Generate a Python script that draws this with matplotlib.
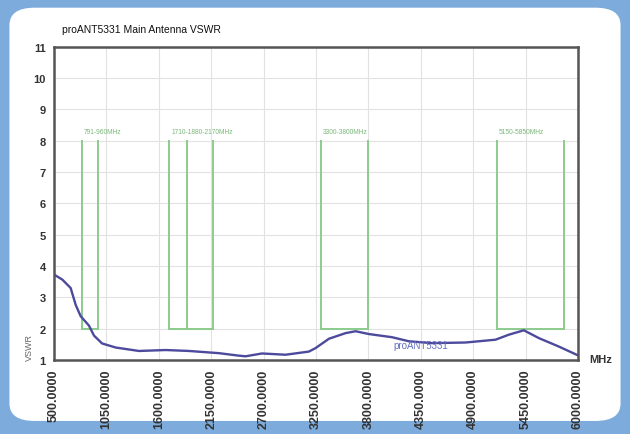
import matplotlib.pyplot as plt
from matplotlib.patches import FancyBboxPatch

plt.rcParams['font.family'] = ['Liberation Sans', 'DejaVu Sans']

# VSWR trace
freq = [500, 587, 675, 728, 780, 867, 920, 1005, 1147, 1392, 1672, 1917, 2231,
        2441, 2511, 2683, 2931, 3175, 3245, 3386, 3561, 3666, 3806, 4047, 4225,
        4467, 4820, 5135, 5275, 5432, 5590, 5800, 6000]
vswr = [3.73, 3.57, 3.3, 2.76, 2.4, 2.1, 1.78, 1.53, 1.4, 1.29, 1.32, 1.29, 1.22,
        1.14, 1.12, 1.21, 1.17, 1.27, 1.38, 1.68, 1.86, 1.92, 1.83, 1.73, 1.6,
        1.54, 1.56, 1.65, 1.81, 1.95, 1.7, 1.43, 1.15]

# spec masks (band edges in MHz, limit 2 up to the marker height 8)
bands = [[791, 960], [1710, 1900, 2170], [3300, 3800], [5150, 5850]]
band_labels = ["791-960MHz", "1710-1880-2170MHz", "3300-3800MHz", "5150-5850MHz"]
mask_low = 2
mask_high = 8

xticks = [500, 1050, 1600, 2150, 2700, 3250, 3800, 4350, 4900, 5450, 6000]
yticks = list(range(1, 12))

green = "#8ccb8c"
trace = "#4c4a9c"

fig = plt.figure(figsize=(6.3, 4.35), dpi=100)
fig.patch.set_facecolor("#7dacdc")

# white rounded card behind the chart
bg = fig.add_axes([0, 0, 1, 1])
bg.set_axis_off()
bg.set_xlim(0, 1)
bg.set_ylim(0, 1)
bg.add_patch(FancyBboxPatch((0.015, 0.03), 0.97, 0.95, boxstyle="round,pad=0,rounding_size=0.04",
                            facecolor="white", edgecolor="none"))

ax = fig.add_axes([0.0857, 0.170, 0.8317, 0.720])
ax.set_xlim(500, 6000)
ax.set_ylim(1, 11)
ax.set_xticks(xticks)
ax.set_xticklabels([f"{t}.0000" for t in xticks], rotation=90, fontsize=9,
                   fontweight="bold", color="#333333")
ax.set_yticks(yticks)
ax.set_yticklabels([str(t) for t in yticks], fontsize=8, fontweight="bold", color="#333333")
ax.tick_params(length=0, pad=6)
ax.grid(True, color="#e2e2e2", lw=0.8)
for s in ax.spines.values():
    s.set_color("#555555")
    s.set_linewidth(1.8)

for edges, lab in zip(bands, band_labels):
    for e in edges:
        ax.plot([e, e], [mask_low, mask_high], color=green, lw=1.4)
    ax.plot([edges[0], edges[-1]], [mask_low, mask_low], color=green, lw=1.4)
    ax.text(edges[0] + 20, mask_high + 0.25, lab, color="#7ab87a", fontsize=4.8)

ax.plot(freq, vswr, color=trace, lw=1.7)
ax.text(4350, 1.47, "proANT5331", color="#6670c0", fontsize=7, ha="center", va="center")

fig.text(0.098, 0.925, "proANT5331 Main Antenna VSWR", fontsize=7.5, color="#111111")
fig.text(0.04, 0.17, "VSWR", rotation=90, fontsize=6.5, color="#666666", va="bottom")
fig.text(0.935, 0.172, "MHz", fontsize=8, fontweight="bold", color="#333333", va="center")

fig.savefig("out.png", dpi=100, facecolor=fig.get_facecolor())
